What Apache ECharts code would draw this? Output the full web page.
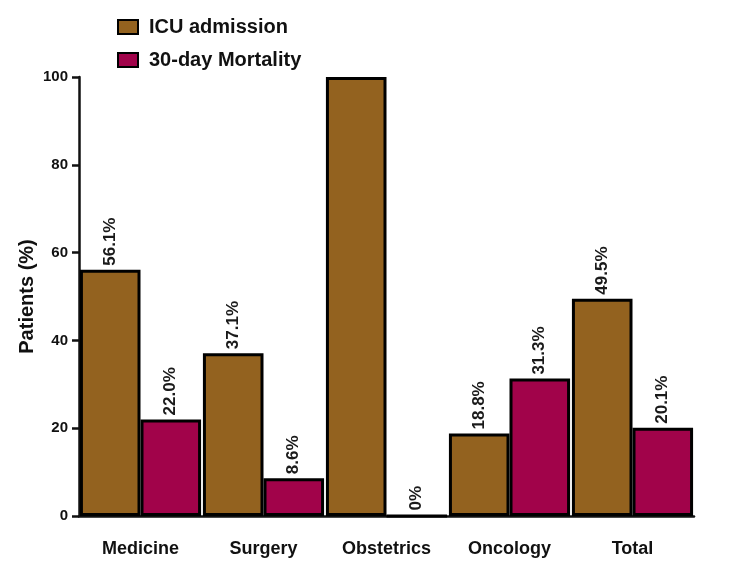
<!DOCTYPE html>
<html>
<head>
<meta charset="utf-8">
<script src="https://cdn.jsdelivr.net/npm/echarts@6/dist/echarts.min.js"></script>
<style>html,body{margin:0;padding:0;background:#fff}#c{width:750px;height:577px}</style>
</head>
<body>
<div id="c"></div>
<script>
var categories = ['Medicine', 'Surgery', 'Obstetrics', 'Oncology', 'Total'];
var icuAdmission = [56.1, 37.1, 100, 18.8, 49.5];
var mortality30 = [22.0, 8.6, 0, 31.3, 20.1];
var icuLabels = ['56.1%', '37.1%', '', '18.8%', '49.5%'];
var mortalityLabels = ['22.0%', '8.6%', '0%', '31.3%', '20.1%'];
var yTicks = [0, 20, 40, 60, 80, 100];

var chart = echarts.init(document.getElementById('c'));
var font = 'Liberation Sans, Arial, sans-serif';
function labelCfg(arr) {
  return {
    show: true, position: 'top', rotate: 90, align: 'left', verticalAlign: 'middle',
    distance: 4, fontFamily: font, fontSize: 17, fontWeight: 'bold', color: '#1a1a1a',
    formatter: function (p) { return arr[p.dataIndex]; }
  };
}
chart.setOption({
  animation: false,
  textStyle: { fontFamily: font },
  legend: {
    orient: 'vertical', left: 112, top: 12, itemWidth: 20, itemHeight: 14, itemGap: 13,
    icon: 'rect',
    textStyle: { fontFamily: font, fontSize: 20, fontWeight: 'bold', color: '#111', padding: [0, 0, 0, 6] },
    data: ['ICU admission', '30-day Mortality']
  },
  grid: { left: 79, right: 56, top: 77, bottom: 61, containLabel: false },
  xAxis: {
    type: 'category', data: categories,
    axisLine: { lineStyle: { color: '#111', width: 2.5 } },
    axisTick: { alignWithLabel: true, length: 7, lineStyle: { color: '#111', width: 2 } },
    axisLabel: { fontFamily: font, fontSize: 18, fontWeight: 'bold', color: '#111', margin: 24 }
  },
  yAxis: {
    type: 'value', min: 0, max: 100, interval: 20,
    name: 'Patients (%)', nameLocation: 'middle', nameGap: 42, nameRotate: 90,
    nameMoveOverlap: false,
    nameTextStyle: { fontFamily: font, fontSize: 20, fontWeight: 'bold', color: '#111' },
    axisLine: { show: true, lineStyle: { color: '#111', width: 2.5 } },
    axisTick: { show: true, length: 7, lineStyle: { color: '#111', width: 2.5 } },
    splitLine: { show: false },
    axisLabel: {
      fontFamily: font, fontSize: 15, fontWeight: 'bold', color: '#111', margin: 11,
      formatter: function (v) { return yTicks.indexOf(v) >= 0 ? String(v) : ''; }
    }
  },
  series: [
    {
      name: 'ICU admission', type: 'bar', data: icuAdmission,
      barGap: '0%', barCategoryGap: '1.5%',
      itemStyle: { color: '#93621F', borderColor: '#000', borderWidth: 3 },
      label: labelCfg(icuLabels)
    },
    {
      name: '30-day Mortality', type: 'bar', data: mortality30,
      barGap: '0%', barCategoryGap: '1.5%',
      itemStyle: { color: '#A1034A', borderColor: '#000', borderWidth: 3 },
      label: labelCfg(mortalityLabels)
    }
  ]
});
</script>
</body>
</html>
